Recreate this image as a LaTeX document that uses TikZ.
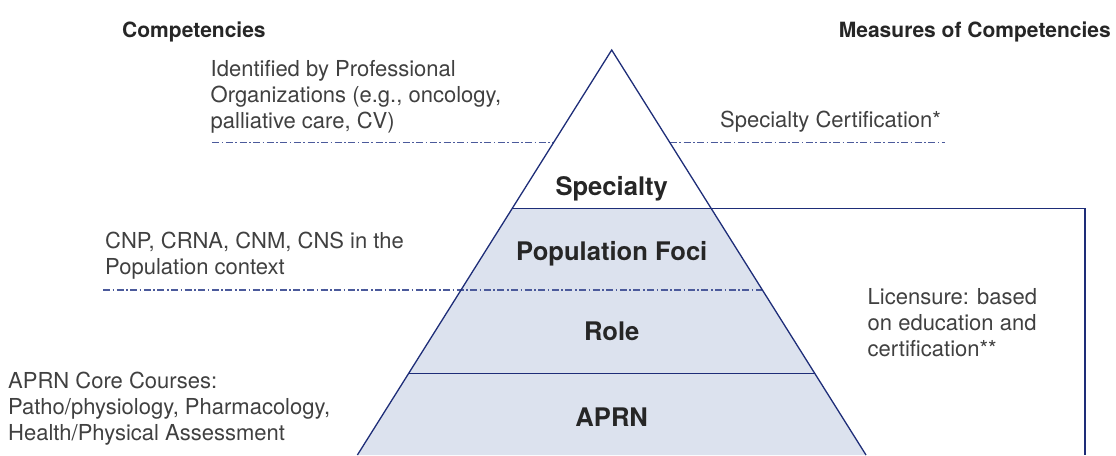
\documentclass[tikz,border=0pt]{standalone}
\usepackage{fontspec}
\setmainfont{TeX Gyre Heros}
\definecolor{lineblue}{HTML}{1E2D78}
\definecolor{dashblue}{HTML}{4B5A9B}
\definecolor{fillblue}{HTML}{DCE2EE}
\definecolor{txt}{HTML}{404040}
\definecolor{txtb}{HTML}{262626}
\begin{document}
\begin{tikzpicture}[x=1pt,y=-1pt,
  solidline/.style={draw=lineblue, line width=1.3pt},
  dashdotline/.style={draw=dashblue, line width=1.4pt, dash pattern=on 7pt off 2.5pt on 1.6pt off 2.5pt},
  body/.style={inner sep=0pt, align=left, text=txt, font=\fontsize{22}{25.8}\selectfont},
  lab/.style={inner sep=0pt, text=txtb, font=\fontsize{25.6}{30}\selectfont\bfseries},
  head/.style={inner sep=0pt, text=txtb, font=\fontsize{21}{25}\selectfont\bfseries},
]
\useasboundingbox (0,0) rectangle (1116,455);
% geometry
\coordinate (apex) at (611.7,50);
\coordinate (bl) at (357.4,455);
\coordinate (br) at (866,455);
\coordinate (sl) at (512.3,208.3);
\coordinate (sr) at (711.1,208.3);
\coordinate (al) at (408.5,373.5);
\coordinate (ar) at (814.9,373.5);
\coordinate (boxtr) at (1085,208.3);
\coordinate (boxbr) at (1085,455);
\coordinate (d1a) at (212.3,142.7);
\coordinate (d1b) at (553.5,142.7);
\coordinate (d1c) at (669.9,142.7);
\coordinate (d1d) at (945,142.7);
\coordinate (d2a) at (103,290);
\coordinate (d2b) at (762.4,290);
% fill
\fill[fillblue] (sl) -- (sr) -- (br) -- (bl) -- cycle;
% dash-dot lines
\draw[dashdotline] (d1a) -- (d1b);
\draw[dashdotline] (d1c) -- (d1d);
\draw[dashdotline] (d2a) -- (d2b);
% solid lines
\draw[solidline] (bl) -- (apex) -- (br);
\draw[solidline] (sl) -- (boxtr) -- (boxbr);
\draw[solidline] (al) -- (ar);
% headers
\node[head, anchor=base west] (h1) at (122,37) {Competencies};
\node[head, anchor=base east] (h2) at (1111,37) {Measures of Competencies};
% pyramid labels
\node[lab, anchor=base] (spec) at (611.7,195) {Specialty};
\node[lab, anchor=base] (pop) at (611.7,260) {Population Foci};
\node[lab, anchor=base] (role) at (611.7,340) {Role};
\node[lab, anchor=base] (aprn) at (611.7,426) {APRN};
% side texts (base anchor = baseline of last line)
\node[body, anchor=base west] (t1) at (210.5,128.3) {Identified by Professional\\Organizations (e.g., oncology,\\palliative care, CV)};
\node[body, anchor=base west] (t2) at (720,127) {Specialty Certification*};
\node[body, anchor=base west] (t3) at (105,274) {CNP, CRNA, CNM, CNS in the\\Population context};
\node[body, anchor=base west] (t4) at (867.5,356) {Licensure: based\\on education and\\certification**};
\node[body, anchor=base west] (t5) at (8,440) {APRN Core Courses:\\Patho/physiology, Pharmacology,\\Health/Physical Assessment};
\end{tikzpicture}
\end{document}
